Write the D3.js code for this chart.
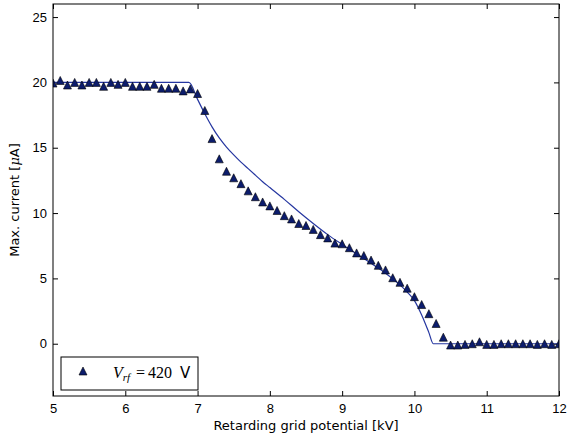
<!DOCTYPE html>
<html>
<head>
<meta charset="utf-8">
<script src="https://cdn.jsdelivr.net/npm/d3@7"></script>
<style>
  body { margin: 0; background: #fff; }
  svg { display: block; font-family: "DejaVu Sans", sans-serif; }
</style>
</head>
<body>
<div id="chart"></div>
<script>
// measured points: retarding voltage [kV] and max. current [uA]
const voltage = [5.0, 5.1, 5.2, 5.3, 5.4, 5.5, 5.6, 5.7, 5.8, 5.9,
  6.0, 6.1, 6.2, 6.3, 6.4, 6.5, 6.6, 6.7, 6.8, 6.9,
  7.0, 7.1, 7.2, 7.3, 7.4, 7.5, 7.6, 7.7, 7.8, 7.9,
  8.0, 8.1, 8.2, 8.3, 8.4, 8.5, 8.6, 8.7, 8.8, 8.9,
  9.0, 9.1, 9.2, 9.3, 9.4, 9.5, 9.6, 9.7, 9.8, 9.9,
  10.0, 10.1, 10.2, 10.3, 10.4, 10.5, 10.6, 10.7, 10.8, 10.9,
  11.0, 11.1, 11.2, 11.3, 11.4, 11.5, 11.6, 11.7, 11.8, 11.9, 12.0]
const current = [19.95, 20.15, 19.8, 20.0, 19.8, 20.0, 20.0, 19.7, 20.0, 19.85,
  20.0, 19.7, 19.7, 19.7, 19.85, 19.55, 19.55, 19.55, 19.35, 19.5,
  19.15, 17.85, 15.7, 14.15, 13.2, 12.7, 12.25, 11.7, 11.25, 10.85,
  10.55, 10.2, 9.8, 9.55, 9.2, 9.05, 8.75, 8.35, 8.1, 7.7,
  7.65, 7.35, 6.95, 6.75, 6.4, 6.0, 5.65, 5.05, 4.7, 4.25,
  3.6, 3.0, 2.3, 1.55, 0.5, -0.1, -0.1, -0.05, 0.0, 0.15,
  -0.05, -0.05, 0.0, 0.0, 0.0, 0.0, 0.0, -0.05, 0.0, -0.05, 0.0]

// model curve
const modelV = [5.0, 6.88, 7.0, 7.1, 7.2, 7.3, 7.4, 7.5, 7.6, 7.7, 7.8, 7.9,
  8.0, 8.2, 8.4, 8.6, 8.8, 9.0, 9.2, 9.4, 9.6, 9.8, 9.9, 10.0, 10.1, 10.2, 10.26, 12.0]
const modelI = [20, 20, 18.7, 17.6, 16.6, 15.75, 15.05, 14.45, 13.9, 13.4, 12.9, 12.4,
  11.95, 11.05, 10.1, 9.2, 8.35, 7.6, 6.88, 6.15, 5.4, 4.5, 3.95, 3.3, 2.2, 0.85, 0, 0]

const xTicks = [5, 6, 7, 8, 9, 10, 11, 12]
const yTicks = [0, 5, 10, 15, 20, 25]
const xDomain = [5, 12]
const yDomain = [-4, 26]

const width = 568
const height = 435
const margin = { left: 53, top: 4, right: 9, bottom: 39 }
const plotW = width - margin.left - margin.right
const plotH = height - margin.top - margin.bottom

const x = d3.scaleLinear().domain(xDomain).range([0, plotW])
const y = d3.scaleLinear().domain(yDomain).range([plotH, 0])

const svg = d3.select("#chart").append("svg")
  .attr("width", width)
  .attr("height", height)

const g = svg.append("g")
  .attr("transform", `translate(${margin.left},${margin.top})`)

g.append("clipPath").attr("id", "plotclip")
  .append("rect").attr("width", plotW).attr("height", plotH)

// ticks on all four sides, pointing inward
const tickLen = 5
const axisStyle = sel => {
  sel.select(".domain").remove()
  sel.selectAll(".tick line").attr("stroke", "#000").attr("stroke-width", 1)
  sel.selectAll(".tick text").attr("fill", "#000").style("font-size", "13px")
}
g.append("g").attr("transform", `translate(0,${plotH})`)
  .call(d3.axisBottom(x).tickValues(xTicks).tickFormat(d3.format("d"))
    .tickSizeInner(-tickLen).tickSizeOuter(0).tickPadding(8))
  .call(axisStyle)
g.append("g")
  .call(d3.axisTop(x).tickValues(xTicks).tickFormat("")
    .tickSizeInner(-tickLen).tickSizeOuter(0))
  .call(axisStyle)
g.append("g")
  .call(d3.axisLeft(y).tickValues(yTicks).tickFormat(d3.format("d"))
    .tickSizeInner(-tickLen).tickSizeOuter(0).tickPadding(6))
  .call(axisStyle)
g.append("g").attr("transform", `translate(${plotW},0)`)
  .call(d3.axisRight(y).tickValues(yTicks).tickFormat("")
    .tickSizeInner(-tickLen).tickSizeOuter(0))
  .call(axisStyle)

const plot = g.append("g").attr("clip-path", "url(#plotclip)")

// model line
const line = d3.line()
  .x((d, i) => x(modelV[i]))
  .y((d, i) => y(modelI[i]))
  .curve(d3.curveMonotoneX)
plot.append("path")
  .datum(modelV)
  .attr("fill", "none")
  .attr("stroke", "#2536a0")
  .attr("stroke-width", 1.2)
  .attr("d", line)

// triangle marker, matplotlib '^' style
const tri = s => `M0,${-s}L${s},${s}L${-s},${s}Z`
const markerSize = 4

plot.selectAll("path.pt")
  .data(voltage)
  .join("path")
  .attr("class", "pt")
  .attr("d", tri(markerSize))
  .attr("transform", (d, i) => `translate(${x(d)},${y(current[i])})`)
  .attr("fill", "#0c1c6c")
  .attr("stroke", "#000")
  .attr("stroke-width", 0.6)

// frame
g.append("rect")
  .attr("width", plotW).attr("height", plotH)
  .attr("fill", "none").attr("stroke", "#000").attr("stroke-width", 1)

// axis labels
svg.append("text")
  .attr("x", margin.left + plotW / 2)
  .attr("y", 430)
  .attr("text-anchor", "middle")
  .style("font-size", "13px")
  .text("Retarding grid potential [kV]")

const ylab = svg.append("text")
  .attr("transform", `translate(19,${margin.top + plotH / 2}) rotate(-90)`)
  .attr("text-anchor", "middle")
  .style("font-size", "13px")
ylab.append("tspan").text("Max. current [")
ylab.append("tspan").style("font-family", "DejaVu Serif").style("font-style", "italic").text("μ")
ylab.append("tspan").text("A]")

// legend
const leg = g.append("g").attr("transform", `translate(${61 - margin.left},${357 - margin.top})`)
leg.append("rect")
  .attr("width", 137).attr("height", 33)
  .attr("fill", "#fff").attr("stroke", "#000").attr("stroke-width", 1)
leg.append("path")
  .attr("d", tri(markerSize))
  .attr("transform", "translate(22,14)")
  .attr("fill", "#0c1c6c")
  .attr("stroke", "#000")
  .attr("stroke-width", 0.6)
const lt = leg.append("text")
  .attr("y", 21)
  .style("font-family", "Liberation Serif")
  .style("font-size", "16px")
lt.append("tspan").attr("x", 52).style("font-style", "italic").text("V")
lt.append("tspan").attr("dy", 3).style("font-style", "italic").style("font-size", "11px").text("rf")
lt.append("tspan").attr("x", 75).attr("dy", -3).text("=")
lt.append("tspan").attr("x", 87).text("420")
lt.append("tspan").attr("x", 119).style("font-family", "DejaVu Sans").style("font-size", "15px").text("V")
</script>
</body>
</html>
